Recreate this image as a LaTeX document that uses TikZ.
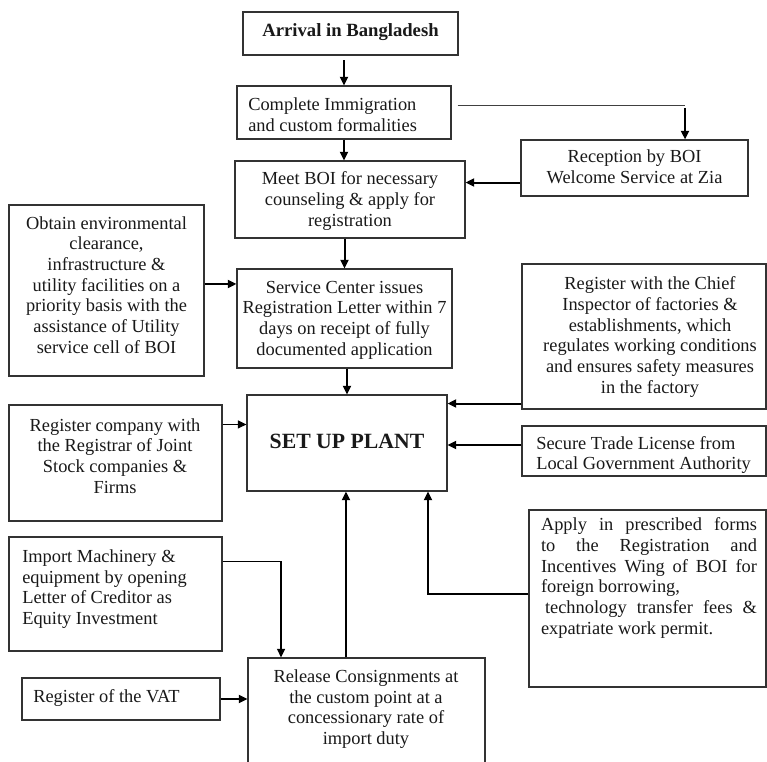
\documentclass[tikz,border=0pt]{standalone}
\usepackage{fontspec}
\setmainfont{Liberation Serif}
\usetikzlibrary{arrows.meta,fit}
\begin{document}
\begin{tikzpicture}[x=0.75pt,y=-0.75pt,
  box/.style={draw=black!80, line width=0.8pt, inner sep=0pt},
  txt/.style={inner sep=0pt, text=black!90, font=\fontsize{13.8}{15.5}\selectfont},
  arr/.style={line width=1.5pt, -{Triangle[length=6.5pt,width=6pt]}},
  thinarr/.style={line width=1.1pt, -{Triangle[length=6.5pt,width=6pt]}},
  thinline/.style={line width=0.7pt, draw=black!75}
]
\useasboundingbox (0,0) rectangle (767,762);
\fill[white] (0,0) rectangle (767,762);

% boxes
\node[box, fit={(243,12) (458,55)}] (arr) {};
\node[box, fit={(237,86) (451,139)}] (cim) {};
\node[box, fit={(235,161) (465,238)}] (meet) {};
\node[box, fit={(521,140) (748,196)}] (rec) {};
\node[box, fit={(9,205) (204,376)}] (obt) {};
\node[box, fit={(237,269) (452,368)}] (svc) {};
\node[box, fit={(522,264) (766,409)}] (chief) {};
\node[box, fit={(247,395) (447,491)}] (plant) {};
\node[box, fit={(522,426) (766,476)}] (trade) {};
\node[box, fit={(9,405) (222,521)}] (regco) {};
\node[box, fit={(9,537) (222,651)}] (imp) {};
\node[box, fit={(22,678) (220,720)}] (vat) {};
\node[box, fit={(248,658) (485,775)}] (rel) {};
\node[box, fit={(529,510) (766,687)}] (app) {};

% texts
\node[txt, font=\fontsize{14}{16}\selectfont\bfseries] (tarr) at (350.5,32) {Arrival in Bangladesh};
\node[txt, align=left, anchor=west] (tcim) at (248,115) {Complete Immigration\\and custom formalities};
\node[txt, align=center] (tmeet) at (350,201) {Meet BOI for necessary\\counseling \& apply for\\registration};
\node[txt, align=center] (trec) at (634.5,167) {Reception by BOI\\Welcome Service at Zia};
\node[txt, align=center] (tobt) at (106.5,285) {Obtain environmental\\clearance,\\infrastructure \&\\utility facilities on a\\priority basis with the\\assistance of Utility\\service cell of BOI};
\node[txt, align=center] (tsvc) at (344.5,320) {Service Center issues\\Registration Letter within 7\\days on receipt of fully\\documented application};
\node[txt, align=center] (tchief) at (650,337) {Register with the Chief\\Inspector of factories \&\\establishments, which\\regulates working conditions\\and ensures safety measures\\in the factory};
\node[txt, font=\fontsize{16.3}{18}\selectfont\bfseries] (tplant) at (347,441) {SET UP PLANT};
\node[txt, align=left, anchor=west] (ttrade) at (536,455) {Secure Trade License from\\Local Government Authority};
\node[txt, align=center] (tregco) at (115,456) {Register company with\\the Registrar of Joint\\Stock companies \&\\Firms};
\node[txt, align=left, anchor=west] (timp) at (22,589) {Import Machinery \&\\equipment by opening\\Letter of Creditor as\\Equity Investment};
\node[txt, anchor=west] (tvat) at (33,698) {Register of the VAT};
\node[txt, align=center] (trel) at (366,709) {Release Consignments at\\the custom point at a\\concessionary rate of\\import duty};
\node[txt, text width=162pt, align=justify] (tapp) at (649,578) {Apply in prescribed forms\linebreak to the Registration and\linebreak Incentives Wing of BOI for\linebreak foreign borrowing,\\\hspace*{3pt}technology transfer fees \&\linebreak expatriate work permit.};

% helper coordinates
\coordinate (c0) at ([xshift=4.5pt,yshift=4.9pt]cim.east);
\coordinate (rtop) at ([xshift=37.9pt]rec.north);
\coordinate (c1) at (c0 -| rtop);

% connectors
\draw[arr, shorten <=3.5pt] (arr.south -| cim.north) -- (cim.north);
\draw[arr] (cim.south) -- (cim.south |- meet.north);
\draw[thinline] (c0) -- (c1);
\draw[arr, shorten <=1.5pt] (c1) -- (rtop);
\draw[arr] ([yshift=-10.9pt]rec.west) -- ([yshift=-10.9pt]rec.west -| meet.east);
\draw[arr] (meet.south -| svc.north) -- (svc.north);
\draw[arr] ([yshift=4.9pt]obt.east) -- ([yshift=4.9pt]obt.east -| svc.west);
\draw[arr] (svc.south -| plant.north) -- (plant.north);
\draw[arr] ([yshift=4.5pt]chief.south west) -- ([yshift=4.5pt]chief.south west -| plant.east);
\draw[arr] ([yshift=4.5pt]trade.west) -- ([yshift=4.5pt]trade.west -| plant.east);
\draw[thinarr] ([yshift=-15pt]regco.north east) -- ([yshift=-15pt]regco.north east -| plant.west);
\draw[arr] ([xshift=-15.4pt]rel.north) -- ([xshift=-15.4pt]rel.north |- plant.south);
\draw[arr] ([yshift=3.4pt]app.west) -| ([xshift=60.75pt]plant.south);
\draw[thinarr] ([yshift=-18.75pt]imp.north east) -| ([xshift=-64.1pt]rel.north);
\draw[arr] (vat.east) -- (vat.east -| rel.west);
\end{tikzpicture}
\end{document}
